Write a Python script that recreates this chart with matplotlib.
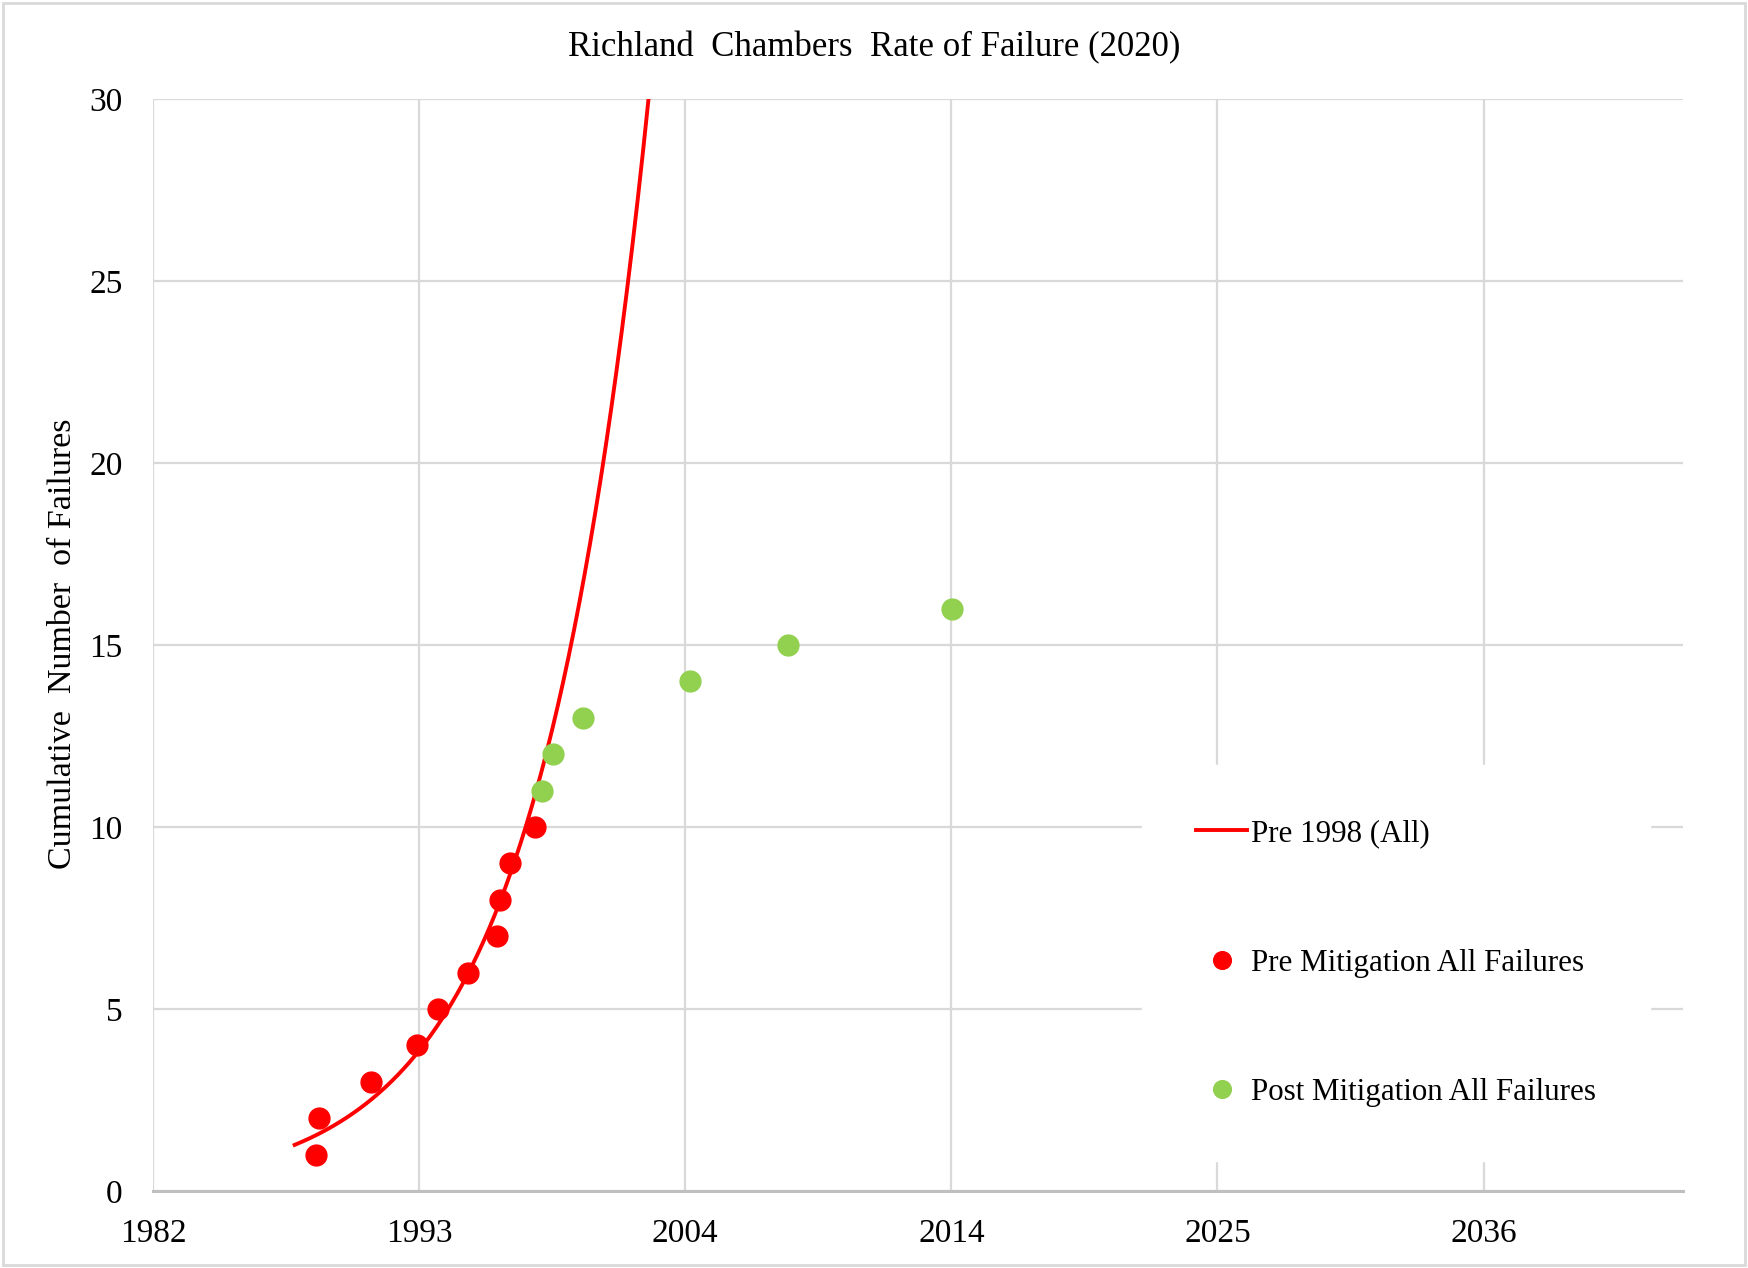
import numpy as np
import matplotlib
matplotlib.use("Agg")
from matplotlib import pyplot as plt
from matplotlib.patches import Rectangle

# x values are Excel serial day numbers (days since 1899-12-30)
pre_days = [32450, 32500, 33271, 33970, 34285, 34741, 35166, 35215, 35365, 35741]
pre_count = [1, 2, 3, 4, 5, 6, 7, 8, 9, 10]

post_days = [35846, 36011, 36471, 38072, 39542, 42003]
post_count = [11, 12, 13, 14, 15, 16]

x_ticks = [30000, 34000, 38000, 42000, 46000, 50000]
x_tick_labels = ["1982", "1993", "2004", "2014", "2025", "2036"]
y_ticks = [0, 5, 10, 15, 20, 25, 30]

trend_start = 32130
trend_end = 38500

plt.rcParams['font.family'] = ['Liberation Serif', 'DejaVu Serif']

fig = plt.figure(figsize=(17.48, 12.68), dpi=100)
ax = fig.add_axes([0.0875, 0.0607, 0.8754, 0.8612])

# exponential trendline, fitted like excel does it (least squares on ln y)
b, ln_a = np.polyfit(pre_days, np.log(pre_count), 1)
tx = np.linspace(trend_start, trend_end, 400)
ty = np.exp(ln_a + b * tx)
ax.plot(tx, ty, color="#ff0000", linewidth=2.8, label="Pre 1998 (All)", zorder=3)

ax.plot(pre_days, pre_count, linestyle="none", marker="o", markersize=15,
        color="#ff0000", label="Pre Mitigation All Failures", zorder=4)
ax.plot(post_days, post_count, linestyle="none", marker="o", markersize=15,
        color="#92d050", label="Post Mitigation All Failures", zorder=4)

ax.set_xlim(30000, 53000)
ax.set_ylim(0, 30)
ax.set_xticks(x_ticks)
ax.set_xticklabels(x_tick_labels)
ax.set_yticks(y_ticks)
ax.tick_params(axis="both", length=0, labelsize=24)
ax.tick_params(axis="x", pad=20)
ax.tick_params(axis="y", pad=22)

ax.grid(True, color="#d9d9d9", linewidth=1.6)
ax.set_axisbelow(True)
for side in ["left", "right", "top"]:
    ax.spines[side].set_visible(False)
ax.spines["bottom"].set_color("#bfbfbf")
ax.spines["bottom"].set_linewidth(2.2)

leg = ax.legend(loc="center", bbox_to_anchor=(0.7986, 0.2405), bbox_transform=fig.transFigure,
                fontsize=22.3, frameon=True, fancybox=False, borderpad=1.75,
                labelspacing=3.25, handlelength=1.65, handletextpad=0.1,
                markerscale=0.85, numpoints=1)
leg.get_frame().set_facecolor("white")
leg.get_frame().set_edgecolor("white")
leg.get_frame().set_alpha(1)

fig.text(0.5, 0.962, "Richland  Chambers  Rate of Failure (2020)", ha="center", va="center",
         fontsize=25)
fig.text(0.0357, 0.492, "Cumulative  Number  of Failures", ha="center", va="center",
         rotation=90, fontsize=24.5)

fig.patches.append(Rectangle((0.002, 0.002), 0.996, 0.996, transform=fig.transFigure,
                             fill=False, edgecolor="#d9d9d9", linewidth=2))

fig.savefig("out.png", dpi=100)
